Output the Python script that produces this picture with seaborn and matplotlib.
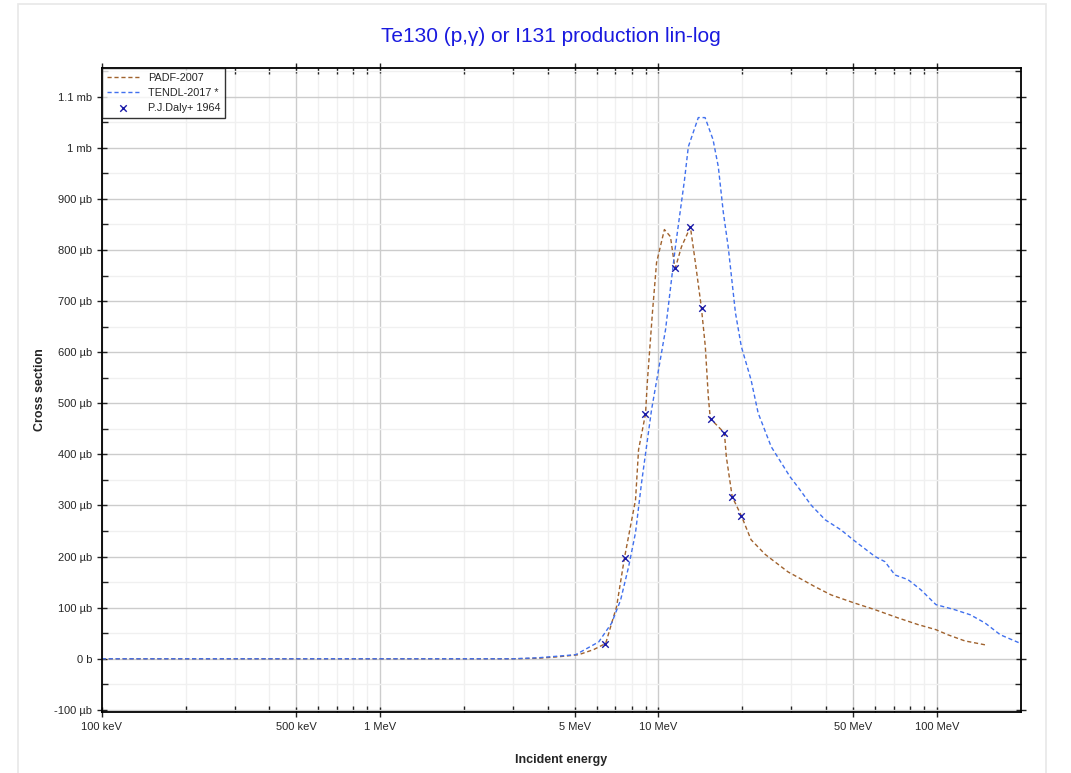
import matplotlib
matplotlib.use('Agg')
import matplotlib.pyplot as plt
import numpy as np
import pandas as pd
import seaborn as sns
from matplotlib.patches import Rectangle
from matplotlib.ticker import FixedLocator, NullFormatter, MultipleLocator

# Data: energy in MeV, cross section in microbarn
padf_e = [0.1, 1.0, 3.0, 3.7, 4.38, 5.17, 5.85, 6.46, 7.07, 7.55, 8.27, 8.48, 8.98, 9.13,
          9.51, 9.84, 10.5, 11.04, 11.41, 11.5, 12.09, 13.02, 13.57, 14.26, 14.73, 15.1,
          15.35, 17.25, 17.53, 18.4, 19.84, 21.5, 24.2, 29.2, 31.8, 36.5, 41.7, 50.0,
          60.0, 72.5, 85.5, 99.2, 109.5, 126, 150]
padf_xs = [0, 0, 0, 1, 4, 8, 18, 30, 102, 198, 311, 409, 479, 546,
           677, 775, 840, 826, 771, 765, 806, 845, 775, 687, 611, 513,
           470, 442, 395, 317, 280, 233, 204, 170, 159, 141, 125, 110,
           96, 80, 67, 57, 47, 35, 27]

tendl_e = [0.1, 1.0, 3.0, 3.7, 5.04, 6.10, 6.79, 7.31, 7.81, 8.27, 8.69, 9.44, 10.6, 11.5,
           12.4, 12.8, 13.9, 14.7, 15.7, 16.4, 17.1, 17.8, 18.9, 19.84, 21.5, 22.8, 25.4,
           29.7, 31.8, 35.3, 39.7, 45.3, 50.0, 60.0, 65.1, 70.7, 78.7, 87.6, 99.2, 116,
           132, 149, 169, 198]
tendl_xs = [0, 0, 0, 2, 8, 33, 70, 115, 180, 247, 344, 487, 644, 806,
            937, 1002, 1059, 1059, 1016, 963, 873, 806, 677, 611, 546, 481, 415,
            356, 335, 301, 272, 252, 233, 200, 190, 164, 155, 135, 106, 96,
            86, 70, 47, 31]

daly_e = [6.42, 7.55, 8.98, 11.5, 13.0, 14.3, 15.4, 17.2, 18.4, 19.8]
daly_xs = [29, 198, 479, 765, 845, 687, 470, 442, 317, 280]

x_ticks = [0.1, 0.5, 1, 5, 10, 50, 100]
x_labels = ['100 keV', '500 keV', '1 MeV', '5 MeV', '10 MeV', '50 MeV', '100 MeV']
y_ticks = [-100, 0, 100, 200, 300, 400, 500, 600, 700, 800, 900, 1000, 1100]
y_labels = ['-100 µb', '0 b', '100 µb', '200 µb', '300 µb', '400 µb', '500 µb', '600 µb',
            '700 µb', '800 µb', '900 µb', '1 mb', '1.1 mb']

padf = pd.DataFrame({'E': padf_e, 'xs': padf_xs})
tendl = pd.DataFrame({'E': tendl_e, 'xs': tendl_xs})
daly = pd.DataFrame({'E': daly_e, 'xs': daly_xs})

sns.set_style('white')
plt.rcParams['font.family'] = ['Liberation Sans', 'DejaVu Sans']

fig = plt.figure(figsize=(10.71, 7.73), dpi=100)
# light frame around the chart area
fig.add_artist(Rectangle((18 / 1071, -0.02), 1028 / 1071, 1 - 4 / 773 + 0.02,
                         transform=fig.transFigure, fill=False, edgecolor='#e8e8e8',
                         linewidth=1.2))
ax = fig.add_axes([0.095, 0.079, 0.858, 0.833])

sns.lineplot(data=padf, x='E', y='xs', ax=ax, sort=False, estimator=None, color='#a0622d',
             linewidth=1.0, dashes=False, linestyle=(0, (3, 2)), label='PADF-2007')
sns.lineplot(data=tendl, x='E', y='xs', ax=ax, sort=False, estimator=None, color='#4070ee',
             linewidth=1.0, dashes=False, linestyle=(0, (3, 2)), label='TENDL-2017 *')
sns.scatterplot(data=daly, x='E', y='xs', ax=ax, marker='x', color='#1a1aa8', s=22,
                linewidth=1.0, label='P.J.Daly+ 1964', zorder=5)

ax.set_xscale('log')
ax.set_xlim(0.1, 200)
ax.set_ylim(-104, 1156)

ax.xaxis.set_major_locator(FixedLocator(x_ticks))
ax.set_xticklabels(x_labels)
minor_x = [m * d for d in [0.1, 1, 10, 100] for m in range(2, 10) if m != 5 and m * d < 200]
ax.xaxis.set_minor_locator(FixedLocator(minor_x))
ax.xaxis.set_minor_formatter(NullFormatter())
ax.set_yticks(y_ticks)
ax.set_yticklabels(y_labels)
ax.yaxis.set_minor_locator(MultipleLocator(50))

ax.grid(which='major', color='#cccccc', linewidth=1.0)
ax.grid(which='minor', color='#f0f0f0', linewidth=1.0)
ax.set_axisbelow(True)

for s in ax.spines.values():
    s.set_color('black')
    s.set_linewidth(1.3)
ax.tick_params(which='major', direction='inout', length=7, width=1, labelsize=8,
               top=True, right=True, bottom=True, left=True, color='#222222')
ax.tick_params(which='minor', direction='in', length=4, width=1,
               top=True, right=True, bottom=True, left=True, color='#222222')

ax.set_xlabel('Incident energy', fontsize=9, fontweight='bold', labelpad=16)
ax.set_ylabel('Cross section', fontsize=9, fontweight='bold', labelpad=6)
fig.text(0.514, 0.953, 'Te130 (p,γ) or I131 production lin-log', ha='center', va='center',
         fontsize=15, color='#1a1adf')

leg = ax.legend(loc='upper left', fontsize=7.8, frameon=True, fancybox=False,
                borderaxespad=0, handlelength=3, borderpad=0.45, labelspacing=0.45)
leg.get_frame().set_edgecolor('black')
leg.get_frame().set_linewidth(1.0)

fig.savefig('out.png', dpi=100)
